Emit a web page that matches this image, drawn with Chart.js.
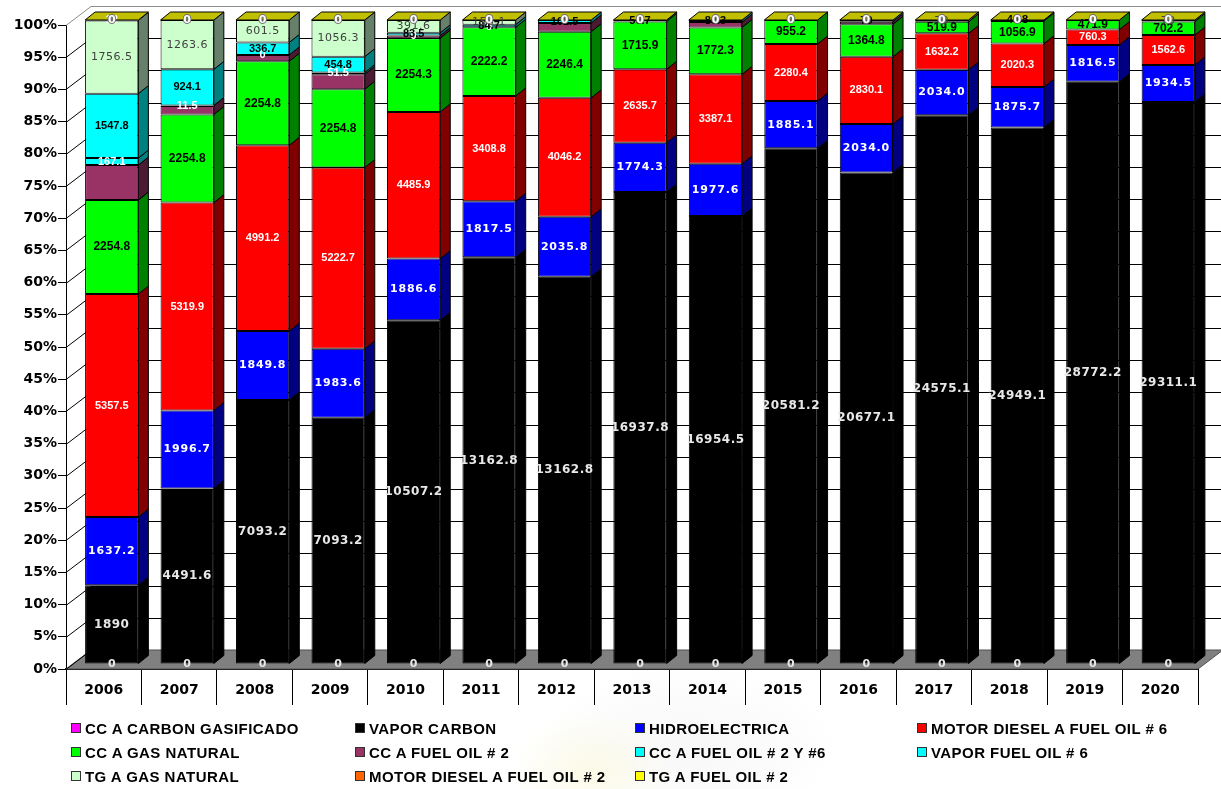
<!DOCTYPE html>
<html>
<head>
<meta charset="utf-8">
<title>Generación por tecnología 2006-2020</title>
<script src="https://cdn.jsdelivr.net/npm/chart.js@4.4.1/dist/chart.umd.min.js"></script>
<style>
  html, body { margin: 0; padding: 0; background: #fff; }
  #wrap {
    position: relative; width: 1221px; height: 789px; overflow: hidden;
    background:
      radial-gradient(ellipse 80px 60px at 590px 772px, rgba(250,247,215,0.6), rgba(255,255,255,0) 100%),
      radial-gradient(ellipse 150px 80px at 690px 745px, rgba(232,232,232,0.35), rgba(255,255,255,0) 100%),
      #fff;
  }
  canvas { position: absolute; left: 0; top: 0; }
  .leg {
    position: absolute; white-space: nowrap; color: #000;
    font: bold 15px "Liberation Sans", Arial, sans-serif; letter-spacing: 0.45px;
    line-height: 16px; height: 16px;
  }
  .leg i {
    display: inline-block; width: 8px; height: 8px; border: 1px solid #333;
    margin-right: 4px; vertical-align: 1px;
  }
</style>
</head>
<body>
<div id="wrap">
  <canvas id="chart" width="1221" height="789"></canvas>
</div>
<script>
// Years on the horizontal axis
const years = ['2006','2007','2008','2009','2010','2011','2012','2013','2014','2015','2016','2017','2018','2019','2020'];

// Generation by technology (null = no value for that year)
const ccCarbonGasificado = [0, 0, 0, 0, 0, 0, 0, 0, 0, 0, 0, 0, 0, 0, 0];
const vaporCarbon        = [1890, 4491.6, 7093.2, 7093.2, 10507.2, 13162.8, 13162.8, 16937.8, 16954.5, 20581.2, 20677.1, 24575.1, 24949.1, 28772.2, 29311.1];
const hidroelectrica     = [1637.2, 1996.7, 1849.8, 1983.6, 1886.6, 1817.5, 2035.8, 1774.3, 1977.6, 1885.1, 2034.0, 2034.0, 1875.7, 1816.5, 1934.5];
const motorDieselFO6     = [5357.5, 5319.9, 4991.2, 5222.7, 4485.9, 3408.8, 4046.2, 2635.7, 3387.1, 2280.4, 2830.1, 1632.2, 2020.3, 760.3, 1562.6];
const ccGasNatural       = [2254.8, 2254.8, 2254.8, 2254.8, 2254.3, 2222.2, 2246.4, 1715.9, 1772.3, 955.2, 1364.8, 519.9, 1056.9, 471.9, 702.2];
const ccFuelOil2         = [840, 220, 170, 430, 80, null, 295, null, 200, null, 110, null, null, null, null];
const ccFuelOil2y6       = [167.1, 11.5, 0, 51.5, 0, 0, null, null, null, null, null, null, null, null, null];
const vaporFuelOil6      = [1547.8, 924.1, 336.7, 454.8, 83.5, 84.7, 102.5, 50.7, 80.3, null, 70, null, 40.8, null, null];
const tgGasNatural       = [1756.5, 1263.6, 601.5, 1056.3, 391.6, 150.1, null, null, null, null, null, 79, null, null, 79];
const motorDieselFO2     = [12, null, null, null, null, null, null, null, null, null, null, null, null, null, null];
const tgFuelOil2         = [0, 0, 0, 0, 0, 0, 0, 0, 0, 0, 0, 0, 0, 0, 0];

// Percent axis tick values
const percentTicks = [0, 5, 10, 15, 20, 25, 30, 35, 40, 45, 50, 55, 60, 65, 70, 75, 80, 85, 90, 95, 100];

const seriesNames = [
  'CC A CARBON GASIFICADO', 'VAPOR CARBON', 'HIDROELECTRICA', 'MOTOR DIESEL A FUEL OIL # 6',
  'CC A GAS NATURAL', 'CC A FUEL OIL # 2', 'CC A FUEL OIL # 2 Y #6', 'VAPOR FUEL OIL # 6',
  'TG A GAS NATURAL', 'MOTOR DIESEL A FUEL OIL # 2', 'TG A FUEL OIL # 2'
];
const seriesValues = [
  ccCarbonGasificado, vaporCarbon, hidroelectrica, motorDieselFO6,
  ccGasNatural, ccFuelOil2, ccFuelOil2y6, vaporFuelOil6,
  tgGasNatural, motorDieselFO2, tgFuelOil2
];

// Front and side face colours of each series
const frontColors = ['#FF00FF', '#000000', '#0000FF', '#FF0000', '#00FF00', '#993366', '#00FFFF', '#00FFFF', '#CCFFCC', '#FF6600', '#FFFF00'];
const sideColors  = ['#800080', '#000000', '#000080', '#800000', '#008000', '#4D1A33', '#008080', '#008080', '#66806A', '#803300', '#808000'];
const topColor = '#C0C000';

// Value label styles per series
const DJ = '"DejaVu Sans", Verdana, sans-serif';
const LS = '"Liberation Sans", Arial, sans-serif';
const labelStyles = [
  { show: true,  color: '#E8E8E8', font: 'bold 11px ' + DJ },
  { show: true,  color: '#E8E8E8', font: 'bold 12px ' + DJ, spacing: '0.5px' },
  { show: true,  color: '#FFFFFF', font: 'bold 11px ' + DJ, fixed: 1, spacing: '0.8px' },
  { show: true,  color: '#FFFFFF', font: 'bold 11px ' + LS },
  { show: true,  color: '#000000', font: 'bold 12px ' + LS },
  { show: false },
  { show: true,  color: '#FFFFFF', font: 'bold 11px ' + LS },
  { show: true,  color: '#000000', font: 'bold 11px ' + LS },
  { show: true,  color: '#404040', font: '11px ' + DJ, spacing: '0.5px' },
  { show: true,  color: '#FFFFFF', font: 'bold 11px ' + LS },
  { show: true,  color: '#FFFFFF', font: 'bold 11px ' + DJ, stroke: '#707070' }
];

const totals = years.map((_, i) => seriesValues.reduce((s, arr) => s + (arr[i] || 0), 0));

const datasets = seriesValues.map((arr, k) => ({
  label: seriesNames[k],
  data: arr.map((v, i) => v === null ? null : v / totals[i] * 100),
  backgroundColor: frontColors[k],
  borderColor: '#000',
  borderWidth: 1,
  borderSkipped: false,
  barPercentage: 0.706,
  categoryPercentage: 1,
  clip: false
}));

// Box geometry: wall depth, bar depth and bar shift into the box
const WALL_DX = 25, WALL_DY = 19;
const BAR_DX = 10, BAR_DY = 8;
const SHIFT_X = 8, SHIFT_Y = -5;

const box3d = {
  id: 'box3d',
  beforeDatasetsDraw(chart) {
    const { ctx, chartArea: a, scales: { y } } = chart;
    ctx.save();
    // floor
    ctx.beginPath();
    ctx.moveTo(a.left, a.bottom);
    ctx.lineTo(a.right, a.bottom);
    ctx.lineTo(a.right + WALL_DX, a.bottom - WALL_DY);
    ctx.lineTo(a.left + WALL_DX, a.bottom - WALL_DY);
    ctx.closePath();
    ctx.fillStyle = '#808080';
    ctx.fill();
    ctx.strokeStyle = '#505050';
    ctx.lineWidth = 1;
    ctx.stroke();
    // side wall and back wall gridlines
    percentTicks.forEach(v => {
      const py = Math.round(y.getPixelForValue(v)) + 0.5;
      ctx.strokeStyle = v === 100 ? '#8C8C8C' : '#000';
      ctx.beginPath();
      ctx.moveTo(a.left, py);
      ctx.lineTo(a.left + WALL_DX, py - WALL_DY);
      if (v > 0) ctx.lineTo(chart.width, py - WALL_DY);
      ctx.stroke();
    });
    ctx.restore();
    // bars sit slightly inside the box
    ctx.save();
    ctx.translate(SHIFT_X, SHIFT_Y);
  },
  afterDatasetsDraw(chart) {
    const { ctx } = chart;
    const metas = chart.data.datasets.map((_, k) => chart.getDatasetMeta(k));
    ctx.lineWidth = 1;
    ctx.strokeStyle = '#000';
    // right side faces
    metas.forEach((meta, k) => {
      meta.data.forEach((el, i) => {
        if (seriesValues[k][i] === null) return;
        const p = el.getProps(['x', 'y', 'base', 'width'], true);
        if (Math.abs(p.base - p.y) < 0.5) return;
        const r = p.x + p.width / 2;
        ctx.beginPath();
        ctx.moveTo(r, p.y);
        ctx.lineTo(r + BAR_DX, p.y - BAR_DY);
        ctx.lineTo(r + BAR_DX, p.base - BAR_DY);
        ctx.lineTo(r, p.base);
        ctx.closePath();
        ctx.fillStyle = sideColors[k];
        ctx.fill();
        ctx.stroke();
      });
    });
    // top faces
    years.forEach((_, i) => {
      let top = null;
      metas.forEach((meta, k) => { if (seriesValues[k][i] !== null) top = meta.data[i]; });
      if (!top) return;
      const p = top.getProps(['x', 'y', 'width'], true);
      const l = p.x - p.width / 2, r = p.x + p.width / 2;
      ctx.beginPath();
      ctx.moveTo(l, p.y);
      ctx.lineTo(l + BAR_DX, p.y - BAR_DY);
      ctx.lineTo(r + BAR_DX, p.y - BAR_DY);
      ctx.lineTo(r, p.y);
      ctx.closePath();
      ctx.fillStyle = topColor;
      ctx.fill();
      ctx.stroke();
    });
    // value labels
    ctx.textAlign = 'center';
    ctx.textBaseline = 'middle';
    metas.forEach((meta, k) => {
      const st = labelStyles[k];
      if (!st.show) return;
      meta.data.forEach((el, i) => {
        const v = seriesValues[k][i];
        if (v === null) return;
        const p = el.getProps(['x', 'y', 'base'], true);
        const ty = v === 0 ? p.y : (p.y + p.base) / 2;
        const txt = v === 0 ? '0' : (st.fixed ? v.toFixed(st.fixed) : String(v));
        ctx.font = st.font;
        ctx.letterSpacing = st.spacing || '0px';
        if (st.stroke) {
          ctx.lineWidth = 2;
          ctx.strokeStyle = st.stroke;
          ctx.strokeText(txt, p.x, ty);
          ctx.lineWidth = 1;
        }
        ctx.fillStyle = st.color;
        ctx.fillText(txt, p.x, ty);
      });
    });
    ctx.letterSpacing = '0px';
    ctx.restore();
  }
};

new Chart(document.getElementById('chart'), {
  type: 'bar',
  data: { labels: years, datasets },
  options: {
    responsive: false,
    animation: false,
    layout: { padding: { top: 25, right: 23, left: 0, bottom: 0 } },
    plugins: { legend: { display: false }, tooltip: { enabled: false } },
    scales: {
      x: {
        stacked: true,
        afterFit(s) { s.height = 120; },
        grid: { offset: true, drawOnChartArea: false, tickLength: 36, color: '#000', lineWidth: 1 },
        border: { display: true, color: '#000', width: 2 },
        ticks: { color: '#000', padding: -23, font: { family: 'DejaVu Sans', size: 14, weight: 'bold' } }
      },
      y: {
        stacked: true,
        min: 0, max: 100,
        afterFit(s) { s.width = 66; },
        afterBuildTicks(s) { s.ticks = percentTicks.map(v => ({ value: v })); },
        grid: { drawOnChartArea: false, tickLength: 8, color: '#000' },
        border: { display: true, color: '#000', width: 1 },
        ticks: {
          color: '#000', padding: 1,
          font: { family: 'DejaVu Sans', size: 14, weight: 'bold' },
          callback: v => v + '%'
        }
      }
    }
  },
  plugins: [box3d]
});

// Legend: four columns, three rows
const legendCols = [71, 355, 635, 917];
const legendRows = [721, 745, 769];
const wrap = document.getElementById('wrap');
seriesNames.forEach((name, k) => {
  const d = document.createElement('div');
  d.className = 'leg';
  d.style.left = legendCols[k % 4] + 'px';
  d.style.top = legendRows[Math.floor(k / 4)] + 'px';
  const sw = document.createElement('i');
  sw.style.background = frontColors[k];
  d.appendChild(sw);
  d.appendChild(document.createTextNode(name));
  wrap.appendChild(d);
});
</script>
</body>
</html>
